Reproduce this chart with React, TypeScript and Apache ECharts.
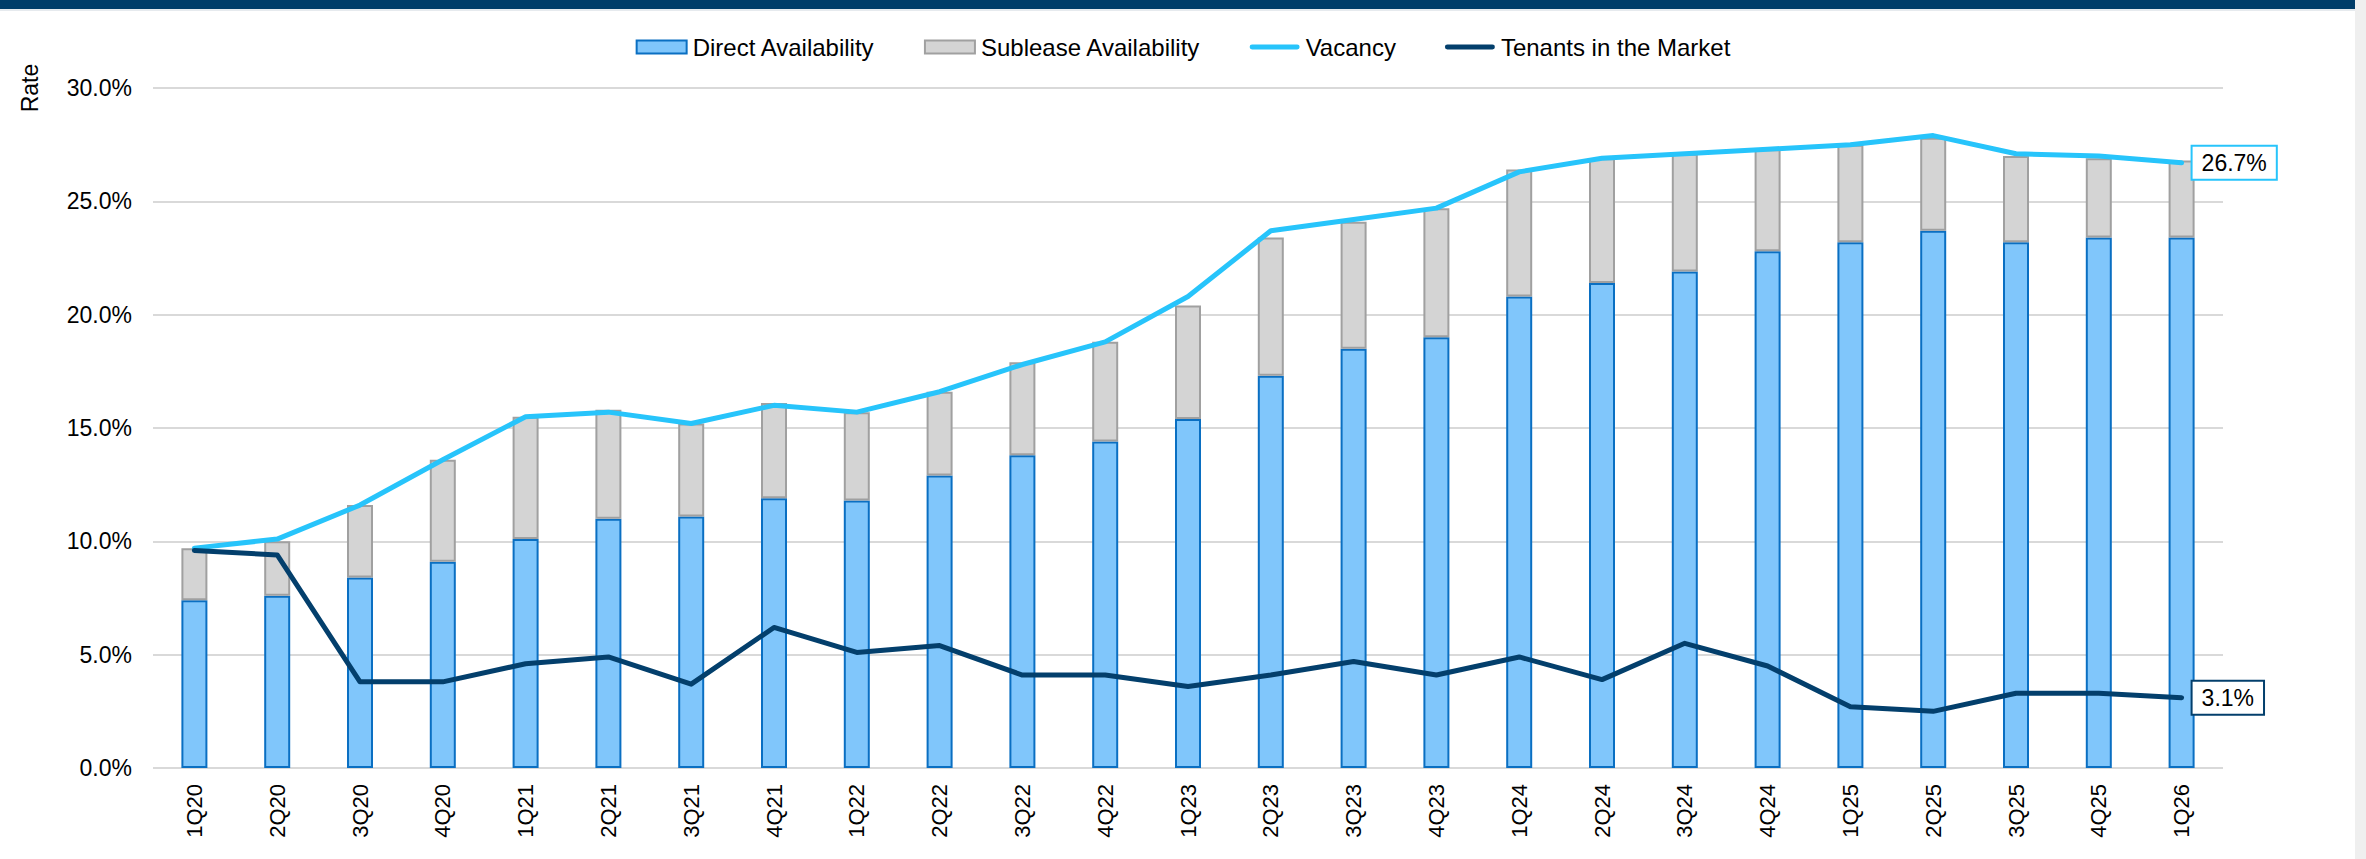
import React, { useEffect, useRef } from "react";
import * as echarts from "echarts";

const categories = [
  "1Q20", "2Q20", "3Q20", "4Q20", "1Q21", "2Q21", "3Q21", "4Q21", "1Q22", "2Q22",
  "3Q22", "4Q22", "1Q23", "2Q23", "3Q23", "4Q23", "1Q24", "2Q24", "3Q24", "4Q24",
  "1Q25", "2Q25", "3Q25", "4Q25", "1Q26",
];
const directAvailability = [
  7.4, 7.6, 8.4, 9.1, 10.1, 11.0, 11.1, 11.9, 11.8, 12.9,
  13.8, 14.4, 15.4, 17.3, 18.5, 19.0, 20.8, 21.4, 21.9, 22.8,
  23.2, 23.7, 23.2, 23.4, 23.4,
];
const subleaseAvailability = [
  2.3, 2.4, 3.2, 4.5, 5.4, 4.8, 4.1, 4.2, 3.9, 3.7,
  4.1, 4.4, 5.0, 6.1, 5.6, 5.7, 5.6, 5.5, 5.2, 4.5,
  4.3, 4.1, 3.8, 3.5, 3.4,
];
const vacancy = [
  9.7, 10.1, 11.6, 13.6, 15.5, 15.7, 15.2, 16.0, 15.7, 16.6,
  17.8, 18.8, 20.8, 23.7, 24.2, 24.7, 26.3, 26.9, 27.1, 27.3,
  27.5, 27.9, 27.1, 27.0, 26.7,
];
const tenantsInMarket = [
  9.6, 9.4, 3.8, 3.8, 4.6, 4.9, 3.7, 6.2, 5.1, 5.4,
  4.1, 4.1, 3.6, 4.1, 4.7, 4.1, 4.9, 3.9, 5.5, 4.5,
  2.7, 2.5, 3.3, 3.3, 3.1,
];
const yTicks = { min: 0, max: 30, interval: 5 };

const FONT = "'Liberation Sans', Arial, Helvetica, sans-serif";
const C_DIRECT = "#80c6fb";
const C_DIRECT_BORDER = "#0a6fc2";
const C_SUB = "#d4d4d4";
const C_SUB_BORDER = "#a0a0a0";
const C_VAC = "#27c4fb";
const C_TEN = "#033f6c";
const C_NAVY = "#003d69";

export default function App() {
  const ref = useRef<HTMLDivElement>(null);
  useEffect(() => {
    if (!ref.current) return;
    const chart = echarts.init(ref.current, undefined, { renderer: "svg" });
    const lineIcon = "path://M2,0 L48,0 A2.5,2.5 0 0 1 48,5 L2,5 A2.5,2.5 0 0 1 2,0 Z";
    chart.setOption({
      animation: false,
      backgroundColor: "#ffffff",
      textStyle: { fontFamily: FONT },
      graphic: [
        { type: "rect", left: 0, top: 0, shape: { x: 0, y: 0, width: 2355, height: 9 }, style: { fill: C_NAVY }, silent: true },
        { type: "rect", left: 0, top: 9, shape: { x: 0, y: 0, width: 2355, height: 2 }, style: { fill: "#e6eaee" }, silent: true },
        { type: "rect", left: 2355, top: 0, shape: { x: 0, y: 0, width: 11, height: 859 }, style: { fill: "#efefef" }, silent: true },
        {
          type: "text",
          x: 30,
          y: 88,
          rotation: Math.PI / 2,
          style: {
            text: "Rate",
            fontSize: 23,
            fontFamily: FONT,
            fill: "#000",
            align: "center",
            verticalAlign: "middle",
          },
        },
      ],
      legend: {
        top: 30,
        left: "center",
        itemWidth: 50,
        itemHeight: 13,
        itemGap: 49,
        textStyle: { fontSize: 24, color: "#000", fontFamily: FONT, padding: [0, 0, 0, 1] },
        data: [
          { name: "Direct Availability", icon: "rect" },
          { name: "Sublease Availability", icon: "rect" },
          { name: "Vacancy", icon: lineIcon },
          { name: "Tenants in the Market", icon: lineIcon },
        ],
      },
      grid: { left: 153, right: 143, top: 88, bottom: 91, containLabel: false },
      xAxis: {
        type: "category",
        data: categories,
        axisLine: { show: false },
        axisTick: { show: false },
        axisLabel: { rotate: 90, fontSize: 22, color: "#000", margin: 16, fontFamily: FONT },
      },
      yAxis: {
        type: "value",
        min: yTicks.min,
        max: yTicks.max,
        interval: yTicks.interval,
        axisLine: { show: false },
        axisTick: { show: false },
        splitLine: { lineStyle: { color: "#d9d9d9", width: 2 } },
        axisLabel: {
          fontSize: 23,
          color: "#000",
          margin: 21,
          fontFamily: FONT,
          formatter: (v: number) => v.toFixed(1) + "%",
        },
      },
      series: [
        {
          name: "Direct Availability",
          type: "bar",
          stack: "avail",
          barWidth: 26,
          data: directAvailability,
          itemStyle: { color: C_DIRECT, borderColor: C_DIRECT_BORDER, borderWidth: 2 },
        },
        {
          name: "Sublease Availability",
          type: "bar",
          stack: "avail",
          barWidth: 26,
          data: subleaseAvailability,
          itemStyle: { color: C_SUB, borderColor: C_SUB_BORDER, borderWidth: 2 },
        },
        {
          name: "Vacancy",
          type: "line",
          data: vacancy,
          symbol: "none",
          z: 5,
          itemStyle: { color: C_VAC },
          lineStyle: { color: C_VAC, width: 5, cap: "round", join: "round" },
          endLabel: {
            show: true,
            formatter: (p: any) => Number(p.value).toFixed(1) + "%",
            distance: 11,
            fontSize: 23,
            color: "#000",
            fontFamily: FONT,
            backgroundColor: "#fff",
            borderColor: C_VAC,
            borderWidth: 2,
            padding: [5, 9, 4, 9],
          },
        },
        {
          name: "Tenants in the Market",
          type: "line",
          data: tenantsInMarket,
          symbol: "none",
          z: 6,
          itemStyle: { color: C_TEN },
          lineStyle: { color: C_TEN, width: 5, cap: "round", join: "round" },
          endLabel: {
            show: true,
            formatter: (p: any) => Number(p.value).toFixed(1) + "%",
            distance: 11,
            fontSize: 23,
            color: "#000",
            fontFamily: FONT,
            backgroundColor: "#fff",
            borderColor: C_TEN,
            borderWidth: 2,
            padding: [5, 9, 4, 9],
          },
        },
      ],
    });
    return () => chart.dispose();
  }, []);
  return (
    <div
      ref={ref}
      style={{ position: "fixed", left: 0, top: 0, width: 2366, height: 859, background: "#fff" }}
    />
  );
}
